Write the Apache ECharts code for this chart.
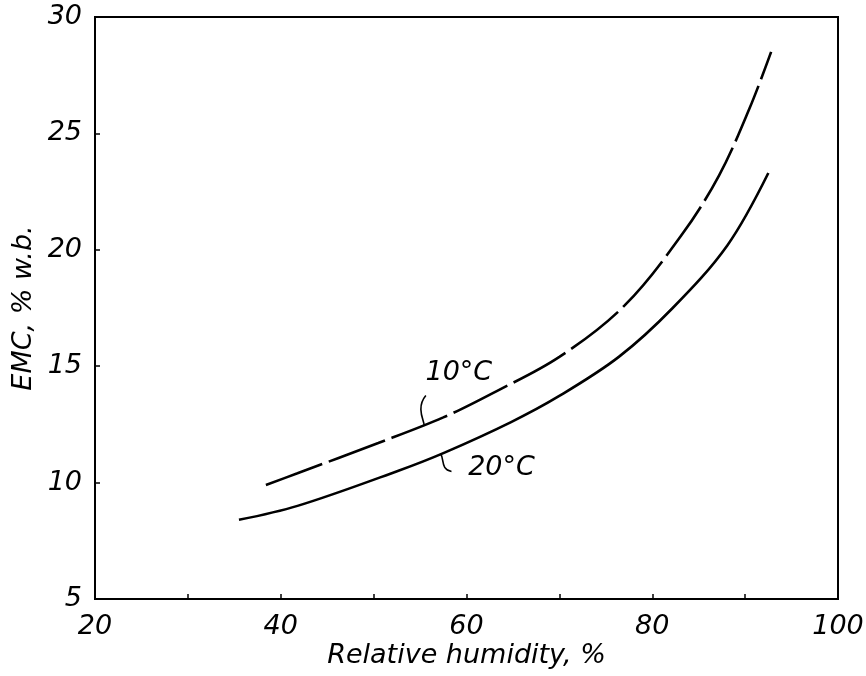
<!DOCTYPE html>
<html>
<head>
<meta charset="utf-8">
<script src="https://cdn.jsdelivr.net/npm/echarts@6/dist/echarts.min.js"></script>
<style>
html,body{margin:0;padding:0;background:#fff;}
#chart{width:866px;height:676px;}
</style>
</head>
<body>
<div id="chart"></div>
<script>
// Data
const rh20 = [35.5, 41.8, 52.6, 57.7, 64.8, 69.9, 76.4, 82.2, 88.1, 92.5];
const emc20 = [8.4, 9.0, 10.5, 11.3, 12.6, 13.7, 15.4, 17.5, 20.2, 23.3];
const rh10 = [38.4, 41.8, 50.5, 57.5, 63.1, 70.0, 77.0, 83.1, 87.2, 90.5, 92.8];
const emc10 = [9.9, 10.4, 11.7, 12.8, 13.9, 15.4, 17.6, 20.6, 23.2, 26.1, 28.5];
const xTicks = [20, 40, 60, 80, 100];
const yTicks = [5, 10, 15, 20, 25, 30];
const seriesNames = ['10°C', '20°C'];
const xTitle = 'Relative humidity, %';
const yTitle = 'EMC, % w.b.';

const font = 'DejaVu Sans';
const chart = echarts.init(document.getElementById('chart'), null, {renderer: 'canvas'});

function pairs(xs, ys) { return xs.map((x, i) => [x, ys[i]]); }

const option = {
  animation: false,
  backgroundColor: '#fff',
  grid: {left: 95, right: 28, top: 17, bottom: 77, containLabel: false, outerBoundsMode: 'none',
         show: true, borderColor: '#000', borderWidth: 2, backgroundColor: 'transparent'},
  xAxis: {
    type: 'value', min: 20, max: 100, interval: 10,
    name: xTitle, nameLocation: 'middle', nameGap: 43, nameMoveOverlap: false,
    nameTextStyle: {fontFamily: font, fontStyle: 'italic', fontSize: 27, color: '#000'},
    axisLine: {show: true, lineStyle: {color: '#000', width: 2}},
    axisTick: {show: true, inside: true, length: 5, lineStyle: {color: '#000', width: 1.5}},
    axisLabel: {
      fontFamily: font, fontStyle: 'italic', fontSize: 27, color: '#000', margin: 14,
      formatter: v => xTicks.includes(v) ? String(v) : ''
    },
    splitLine: {show: false}
  },
  yAxis: {
    type: 'value', min: 5, max: 30, interval: 5,
    name: yTitle, nameLocation: 'middle', nameGap: 58, nameRotate: 90, nameMoveOverlap: false,
    nameTextStyle: {fontFamily: font, fontStyle: 'italic', fontSize: 27, color: '#000'},
    axisLine: {show: true, lineStyle: {color: '#000', width: 2}},
    axisTick: {show: true, inside: true, length: 5, lineStyle: {color: '#000', width: 1.5}},
    axisLabel: {
      fontFamily: font, fontStyle: 'italic', fontSize: 27, color: '#000', margin: 13,
      formatter: v => yTicks.includes(v) ? String(v) : ''
    },
    splitLine: {show: false}
  },
  series: [
    {
      name: seriesNames[0], type: 'line', data: pairs(rh10, emc10), smooth: 0.35,
      showSymbol: false, lineStyle: {color: '#000', width: 2.6, type: [60, 7]}
    },
    {
      name: seriesNames[1], type: 'line', data: pairs(rh20, emc20), smooth: 0.35,
      showSymbol: false, lineStyle: {color: '#000', width: 2.6, type: 'solid'}
    }
  ]
};
chart.setOption(option);

// Annotation labels with small leader squiggles, anchored in data space
const p10 = chart.convertToPixel({gridIndex: 0}, [55.3, 12.45]);
const p20 = chart.convertToPixel({gridIndex: 0}, [57.2, 11.25]);
chart.setOption({
  graphic: [
    {type: 'bezierCurve', shape: {x1: p10[0] + 3, y1: p10[1] - 30, cpx1: p10[0] - 8, cpy1: p10[1] - 17, cpx2: p10[0] + 3, cpy2: p10[1] - 2, x2: p10[0] + 1, y2: p10[1]}, style: {stroke: '#000', lineWidth: 1.6, fill: null}},
    {type: 'text', x: p10[0] + 36, y: p10[1] - 53, style: {text: seriesNames[0], font: 'italic 27px "DejaVu Sans"', fill: '#000', textAlign: 'center', textVerticalAlign: 'middle'}},
    {type: 'bezierCurve', shape: {x1: p20[0], y1: p20[1], cpx1: p20[0] + 4, cpy1: p20[1] + 6, cpx2: p20[0] + 0, cpy2: p20[1] + 16, x2: p20[0] + 11, y2: p20[1] + 18}, style: {stroke: '#000', lineWidth: 1.6, fill: null}},
    {type: 'text', x: p20[0] + 61, y: p20[1] + 14, style: {text: seriesNames[1], font: 'italic 27px "DejaVu Sans"', fill: '#000', textAlign: 'center', textVerticalAlign: 'middle'}}
  ]
});
</script>
</body>
</html>
